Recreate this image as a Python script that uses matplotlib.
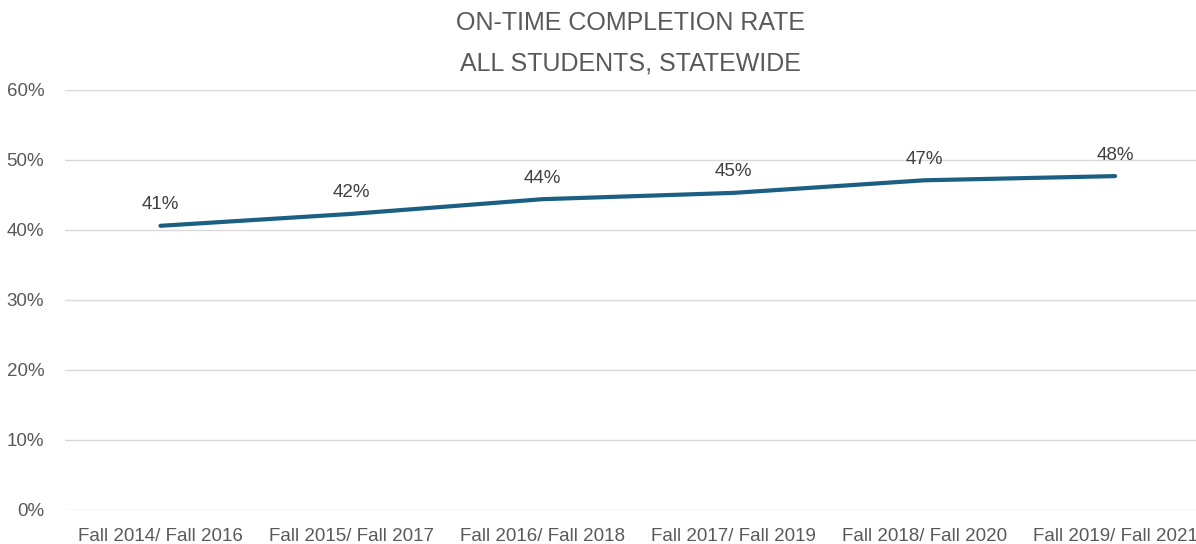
import matplotlib
matplotlib.use("Agg")
import matplotlib.pyplot as plt
from matplotlib.ticker import PercentFormatter

categories = ["Fall 2014/ Fall 2016", "Fall 2015/ Fall 2017", "Fall 2016/ Fall 2018",
              "Fall 2017/ Fall 2019", "Fall 2018/ Fall 2020", "Fall 2019/ Fall 2021"]
rates = [40.6, 42.3, 44.4, 45.3, 47.1, 47.7]
labels = ["41%", "42%", "44%", "45%", "47%", "48%"]

plt.rcParams['font.family'] = ['Liberation Sans', 'DejaVu Sans']

fig = plt.figure(figsize=(11.96, 5.44), dpi=100)
ax = fig.add_axes([65/1196, 34/544, 1 - 65/1196, 420/544])

x = list(range(len(categories)))
ax.plot(x, rates, color="#1b5f82", linewidth=3, solid_capstyle="round")
for xi, yi, lab in zip(x, rates, labels):
    ax.annotate(lab, (xi, yi), xytext=(0, 9), textcoords="offset points",
                ha="center", va="bottom", fontsize=13.5, color="#404040")

ax.set_ylim(0, 60)
ax.set_xlim(-0.5, 5.424)
ax.set_yticks(range(0, 61, 10))
ax.yaxis.set_major_formatter(PercentFormatter(decimals=0))
ax.set_xticks(x)
ax.set_xticklabels(categories)
ax.grid(axis="y", color="#d9d9d9", linewidth=1)
ax.set_axisbelow(True)
for s in ax.spines.values():
    s.set_visible(False)
ax.tick_params(axis="both", length=0, labelsize=13.5, colors="#595959")
ax.tick_params(axis="y", pad=15)
ax.tick_params(axis="x", pad=13)

fig.text(0.5 + 32/1196, 1 - 23/544, "ON-TIME COMPLETION RATE", ha="center", va="center",
         fontsize=18, color="#595959")
fig.text(0.5 + 32/1196, 1 - 63/544, "ALL STUDENTS, STATEWIDE", ha="center", va="center",
         fontsize=18, color="#595959")

fig.savefig("out.png", dpi=100)
